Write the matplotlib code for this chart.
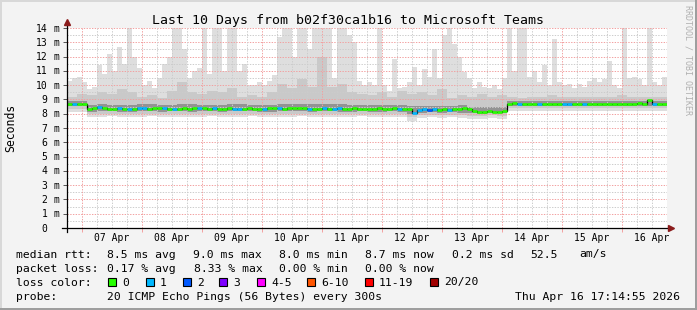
import matplotlib
matplotlib.use("Agg")
import matplotlib.pyplot as plt
from matplotlib.patches import Rectangle
from matplotlib import transforms
import numpy as np

# ---------------- data ----------------
title = "Last 10 Days from b02f30ca1b16 to Microsoft Teams"
day_labels = ["07 Apr", "08 Apr", "09 Apr", "10 Apr", "11 Apr",
              "12 Apr", "13 Apr", "14 Apr", "15 Apr", "16 Apr"]
start_day = -0.25      # left edge of graph, in days after 07 Apr 00:00
span_days = 10

# median rtt in ms, one value per 2 h
median = [8.68, 8.65, 8.68, 8.68, 8.30, 8.38, 8.48, 8.40, 8.35, 8.32,
          8.38, 8.35, 8.30, 8.33, 8.38, 8.38, 8.35, 8.38, 8.38, 8.38,
          8.32, 8.30, 8.35, 8.38, 8.35, 8.38, 8.42, 8.38, 8.35, 8.38,
          8.35, 8.33, 8.38, 8.35, 8.32, 8.35, 8.38, 8.35, 8.33, 8.35,
          8.38, 8.40, 8.38, 8.35, 8.38, 8.42, 8.40, 8.38, 8.35, 8.33,
          8.35, 8.38, 8.35, 8.33, 8.38, 8.35, 8.35, 8.38, 8.35, 8.32,
          8.30, 8.35, 8.38, 8.35, 8.35, 8.38, 8.35, 8.32, 8.35, 8.05,
          8.25, 8.30, 8.28, 8.30, 8.28, 8.30, 8.28, 8.30, 8.30, 8.38,
          8.32, 8.18, 8.15, 8.15, 8.18, 8.15, 8.15, 8.18, 8.68, 8.72,
          8.70, 8.68, 8.70, 8.68, 8.68, 8.70, 8.68, 8.70, 8.68, 8.68,
          8.70, 8.68, 8.68, 8.70, 8.68, 8.68, 8.70, 8.68, 8.68, 8.70,
          8.68, 8.70, 8.68, 8.68, 8.72, 8.70, 8.98, 8.65, 8.70, 8.68]

# lost pings (of 20) per 2 h
loss = [0, 1, 0, 0, 0, 0, 1, 0, 0, 0,
        1, 0, 1, 0, 1, 1, 0, 0, 0, 1,
        0, 1, 0, 0, 0, 0, 1, 0, 0, 1,
        0, 0, 0, 1, 1, 0, 0, 0, 0, 1,
        0, 0, 1, 0, 0, 0, 0, 0, 1, 0,
        0, 1, 0, 1, 1, 0, 0, 0, 0, 0,
        0, 0, 0, 0, 0, 0, 1, 0, 0, 1,
        1, 1, 2, 1, 0, 0, 1, 0, 0, 0,
        0, 0, 0, 0, 0, 0, 0, 0, 0, 0,
        1, 0, 0, 0, 1, 0, 0, 0, 0, 1,
        1, 0, 0, 1, 0, 0, 0, 0, 0, 0,
        0, 0, 0, 0, 0, 0, 0, 1, 0, 0]

# slowest ping per 2 h in ms (above 14 is cut off)
ping_max = [10.3, 10.5, 10.6, 10.2, 9.7, 9.9, 11.4, 10.8, 12.2, 11.0,
            12.7, 11.5, 14.5, 12.0, 11.2, 10.0, 10.3, 9.8, 10.5, 11.5,
            12.0, 14.5, 14.5, 12.5, 10.5, 11.0, 11.2, 14.5, 10.8, 14.5,
            14.5, 11.0, 14.5, 14.5, 11.0, 11.5, 10.0, 10.0, 10.2, 10.0,
            10.3, 10.7, 13.4, 14.5, 14.5, 12.0, 14.5, 14.5, 12.5, 14.5,
            14.5, 14.5, 14.5, 10.5, 14.5, 14.5, 13.5, 13.0, 10.3, 10.0,
            10.2, 10.0, 14.5, 10.0, 9.6, 11.8, 9.8, 9.9, 10.2, 11.3,
            10.0, 11.1, 10.6, 12.5, 10.5, 13.5, 14.5, 12.9, 12.0, 10.9,
            10.5, 9.8, 10.2, 9.9, 9.8, 10.0, 9.7, 10.5, 14.5, 11.0,
            14.5, 14.5, 10.6, 11.0, 10.2, 11.4, 10.0, 13.2, 10.2, 10.0,
            10.1, 9.8, 10.1, 9.9, 10.3, 10.5, 10.2, 10.4, 11.7, 10.0,
            9.8, 14.5, 10.5, 10.6, 10.4, 10.0, 14.5, 10.2, 10.0, 10.6]

# smoke bands per 4 h in ms
ping_min = [8.15, 8.15, 7.80, 7.78, 7.82, 7.80, 7.75, 7.80, 7.82, 7.78,
            7.80, 7.80, 7.76, 7.80, 7.82, 7.80, 7.78, 7.80, 7.82, 7.80,
            7.78, 7.80, 7.80, 7.82, 7.78, 7.80, 7.80, 7.78, 7.80, 7.82,
            7.80, 7.78, 7.80, 7.80, 7.50, 7.70, 7.75, 7.72, 7.75, 7.70,
            7.65, 7.65, 7.68, 7.65, 8.22, 8.20, 8.22, 8.20, 8.22, 8.20,
            8.22, 8.20, 8.20, 8.22, 8.20, 8.22, 8.20, 8.20, 8.22, 8.20]
ping_p10 = [8.35, 8.35, 7.98, 7.98, 8.00, 7.98, 7.95, 7.98, 8.00, 7.98,
            7.98, 8.00, 7.96, 7.98, 8.00, 7.98, 7.98, 8.00, 8.00, 7.98,
            7.98, 8.00, 7.98, 8.00, 7.98, 7.98, 8.00, 7.98, 7.98, 8.00,
            7.98, 7.96, 7.98, 7.98, 7.75, 7.90, 7.92, 7.90, 7.92, 7.88,
            7.85, 7.85, 7.88, 7.85, 8.40, 8.40, 8.42, 8.40, 8.40, 8.42,
            8.40, 8.40, 8.42, 8.40, 8.40, 8.40, 8.42, 8.40, 8.40, 8.40]
ping_p25 = [8.52, 8.52, 8.15, 8.18, 8.18, 8.15, 8.15, 8.18, 8.18, 8.15,
            8.18, 8.18, 8.15, 8.18, 8.18, 8.15, 8.18, 8.18, 8.18, 8.15,
            8.15, 8.18, 8.18, 8.18, 8.15, 8.18, 8.18, 8.15, 8.15, 8.18,
            8.15, 8.15, 8.18, 8.15, 7.95, 8.08, 8.10, 8.08, 8.10, 8.08,
            8.02, 8.00, 8.02, 8.02, 8.55, 8.55, 8.56, 8.55, 8.55, 8.56,
            8.55, 8.55, 8.56, 8.55, 8.55, 8.55, 8.56, 8.55, 8.55, 8.55]
ping_p75 = [8.90, 8.92, 8.62, 8.66, 8.62, 8.60, 8.62, 8.65, 8.66, 8.62,
            8.62, 8.65, 8.66, 8.62, 8.60, 8.62, 8.66, 8.65, 8.62, 8.60,
            8.62, 8.66, 8.68, 8.65, 8.70, 8.65, 8.66, 8.68, 8.62, 8.60,
            8.62, 8.60, 8.62, 8.60, 8.56, 8.53, 8.56, 8.53, 8.54, 8.60,
            8.48, 8.46, 8.44, 8.46, 8.86, 8.88, 8.86, 8.86, 8.88, 8.86,
            8.86, 8.88, 8.86, 8.86, 8.88, 8.86, 8.86, 8.86, 8.88, 8.88]
ping_p90 = [9.2, 9.4, 9.3, 9.5, 9.4, 9.7, 9.5, 9.2, 9.3, 9.1,
            9.6, 10.2, 9.5, 9.4, 9.6, 9.5, 9.8, 9.2, 9.3, 9.2,
            9.5, 10.1, 9.8, 10.4, 9.9, 12.0, 9.9, 10.1, 9.5, 9.4,
            9.3, 9.5, 9.2, 9.6, 9.4, 9.5, 9.3, 9.7, 9.1, 9.3,
            9.2, 9.4, 9.2, 9.3, 9.15, 9.1, 9.2, 9.15, 9.3, 9.15,
            9.15, 9.2, 9.15, 9.2, 9.15, 9.3, 9.15, 9.2, 9.15, 9.2]

loss_labels = ["0", "1", "2", "3", "4-5", "6-10", "11-19", "20/20"]
loss_colors = ["#26ff00", "#00b8ff", "#0059ff", "#7e00ff",
               "#ff00ff", "#ff5500", "#ff0000", "#a10000"]
loss_upper = [0, 1, 2, 3, 5, 10, 19, 20]

rtt_stats = ["8.5 ms avg", "9.0 ms max", "8.0 ms min", "8.7 ms now",
             "0.2 ms sd", "52.5", "am/s"]
loss_stats = ["0.17 % avg", "8.33 % max", "0.00 % min", "0.00 % now"]
probe_text = "20 ICMP Echo Pings (56 Bytes) every 300s"
stamp = "Thu Apr 16 17:14:55 2026"

# ---------------- figure ----------------
W, H = 697, 310
MONO = "DejaVu Sans Mono"
fig = plt.figure(figsize=(W / 100, H / 100), dpi=100, facecolor="#f3f3f3")
ax = fig.add_axes([67 / W, 1 - 228 / H, 600 / W, 200 / H])
ax.set_facecolor("white")


def ftext(px, py, s, **kw):
    kw.setdefault("family", MONO)
    kw.setdefault("va", "baseline")
    return fig.text(px / W, 1 - py / H, s, **kw)


def steps(v):
    return np.append(v, v[-1])


e2h = start_day + np.arange(len(median) + 1) * span_days / len(median)
e4h = start_day + np.arange(len(ping_min) + 1) * span_days / len(ping_min)

# smoke
ax.fill_between(e4h, steps(ping_min), steps(ping_p90), step="post",
                color="#dedede", lw=0, zorder=1)
ax.fill_between(e2h, steps(median), steps(ping_max), step="post",
                color="#dedede", lw=0, zorder=1)
ax.fill_between(e4h, steps(ping_p10), steps(ping_p90), step="post",
                color="#c9c9c9", lw=0, zorder=1)
ax.fill_between(e4h, steps(ping_p25), steps(ping_p75), step="post",
                color="#939393", lw=0, zorder=1)

# grid on top of the smoke
dots = (0, (1.4, 1.4))
for v in np.arange(0.5, 14.01, 0.5):
    major = float(v).is_integer()
    ax.axhline(v, color="#f2a0a0" if major else "#cccccc", lw=0.7,
               ls=dots, zorder=2)
for d in np.arange(0, 9.76, 0.25):
    major = float(d).is_integer()
    ax.axvline(d, color="#f2a0a0" if major else "#cccccc", lw=0.7,
               ls=dots, zorder=2)

# median line coloured by loss
ax.step(e2h, steps(median), where="post", color="black", lw=0.9, zorder=3)
for i, m in enumerate(median):
    k = next(j for j, u in enumerate(loss_upper) if loss[i] <= u)
    ax.plot([e2h[i], e2h[i + 1]], [m, m], color=loss_colors[k], lw=1.9,
            solid_capstyle="butt", zorder=4)

ax.set_xlim(start_day, start_day + span_days)
ax.set_ylim(0, 14)
for s in ax.spines.values():
    s.set_visible(False)
ax.set_yticks(range(15))
ax.set_yticklabels([])
ax.set_xticks(range(10))
ax.set_xticklabels([])
ax.tick_params(axis="y", length=3, width=0.7, color="#555555")
ax.tick_params(axis="x", length=3, width=0.7, color="#f2a0a0")

# axes with arrows
ax.plot([0, 0], [-0.02, 1.03], transform=ax.transAxes, color="black",
        lw=0.9, clip_on=False, zorder=5)
ax.plot([-0.008, 1.0], [0, 0], transform=ax.transAxes, color="black",
        lw=0.9, clip_on=False, zorder=5)
ax.plot([0], [1.03], marker="^", ms=4.5, color="#8b1c1c",
        transform=ax.transAxes, clip_on=False, zorder=6)
ax.plot([1.006], [0], marker=">", ms=4.5, color="#8b1c1c",
        transform=ax.transAxes, clip_on=False, zorder=6)

# y labels: number and unit in separate columns
for v in range(15):
    py = 228 - v * 200 / 14 + 3.6
    ftext(47.5, py, str(v), size=7, ha="right")
    if v > 0:
        ftext(53.5, py, "m", size=7, ha="left")

# day labels at noon
xt = transforms.blended_transform_factory(ax.transData, fig.transFigure)
for d, lab in enumerate(day_labels):
    ax.text(d + 0.5, 1 - 241 / H, lab, transform=xt, family=MONO, size=7,
            ha="center", va="baseline")

ftext(348.5, 24, title, size=9.5, ha="center")
ftext(10.5, 128, "Seconds", size=8.3, rotation=90, ha="center", va="center")
ftext(688, 5, "RRDTOOL / TOBI OETIKER", size=6, rotation=-90,
      ha="center", va="top", color="#b0b0b0")

# legend block
fs = 8.2
ftext(16, 257.5, "median rtt:", size=fs)
for px, s in zip([107, 193, 279, 365, 452, 530, 579], rtt_stats):
    ftext(px, 257.5, s, size=fs)
ftext(16, 271.5, "packet loss:", size=fs)
for px, s in zip([107, 194, 279, 365], loss_stats):
    ftext(px, 271.5, s, size=fs)
ftext(16, 285.5, "loss color:", size=fs)
box_x = [108, 146, 183, 219, 257, 307, 365, 430]
for bx, lab, c in zip(box_x, loss_labels, loss_colors):
    fig.add_artist(Rectangle((bx / W, 1 - 286 / H), 8 / W, 8 / H,
                             transform=fig.transFigure, facecolor=c,
                             edgecolor="black", lw=0.8))
    ftext(bx + 14, 285.5, lab, size=fs)
ftext(16, 299.5, "probe:", size=fs)
ftext(107, 299.5, probe_text, size=fs)
ftext(680, 299.5, stamp, size=fs, ha="right")

# frame
for rect, c in [((0, 1 - 2 / H, 1, 2 / H), "#d8d8d8"),
                ((0, 0, 2 / W, 1), "#d8d8d8"),
                ((0, 0, 1, 2 / H), "#9e9e9e"),
                ((1 - 2 / W, 0, 2 / W, 1), "#9e9e9e")]:
    fig.add_artist(Rectangle(rect[:2], rect[2], rect[3],
                             transform=fig.transFigure, color=c, lw=0))

fig.savefig("out.png", dpi=100, facecolor=fig.get_facecolor())
